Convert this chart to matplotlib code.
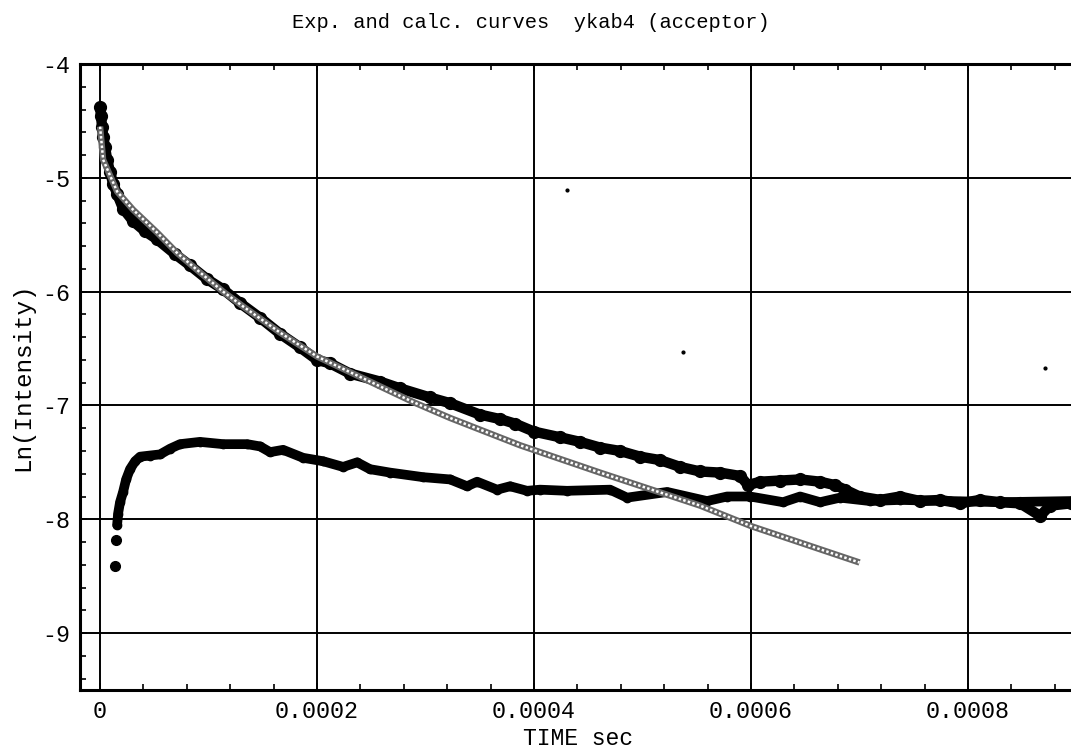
import numpy as np
import matplotlib
matplotlib.use("Agg")
import matplotlib.pyplot as plt
import matplotlib.ticker as ticker

plt.rcParams["font.family"] = ["Liberation Mono", "DejaVu Sans Mono"]
plt.rcParams["axes.unicode_minus"] = False

# ── experimental curve, upper branch (t in units of 1e-4 s) ──────────────────
t_up = np.array([0.0, 0.009, 0.018, 0.028, 0.046, 0.065, 0.092, 0.12, 0.157,
                 0.212, 0.304, 0.415, 0.525, 0.691, 0.829, 0.986, 1.134, 1.29,
                 1.475, 1.659, 1.843, 2.0, 2.12, 2.304, 2.58, 2.765, 3.04,
                 3.226, 3.5, 3.687, 3.825, 4.0, 4.24, 4.424, 4.608, 4.793,
                 4.977, 5.161, 5.346, 5.53, 5.714, 5.9, 5.972, 6.083, 6.267,
                 6.452, 6.636, 6.774, 6.866, 7.0, 7.189, 7.373, 7.558, 7.742,
                 7.926, 8.11, 8.295, 8.479, 8.664, 8.756, 8.95])
v_up = np.array([-4.38, -4.46, -4.55, -4.64, -4.73, -4.84, -4.95, -5.05, -5.14,
                 -5.27, -5.38, -5.47, -5.54, -5.67, -5.77, -5.89, -5.98, -6.10,
                 -6.23, -6.37, -6.49, -6.60, -6.63, -6.72, -6.79, -6.85, -6.93,
                 -6.98, -7.08, -7.12, -7.16, -7.23, -7.28, -7.32, -7.37, -7.40,
                 -7.45, -7.48, -7.54, -7.58, -7.59, -7.62, -7.70, -7.67, -7.66,
                 -7.65, -7.67, -7.70, -7.74, -7.80, -7.83, -7.80, -7.84, -7.83,
                 -7.86, -7.83, -7.85, -7.86, -7.97, -7.88, -7.86])

# ── experimental curve, lower branch (first two points are isolated) ─────────
t_low = np.array([0.138, 0.147, 0.157, 0.166, 0.184, 0.212, 0.24, 0.276, 0.323,
                  0.369, 0.46, 0.553, 0.645, 0.737, 0.92, 1.134, 1.355, 1.475,
                  1.567, 1.687, 1.871, 2.055, 2.24, 2.369, 2.488, 2.673, 2.977,
                  3.226, 3.382, 3.475, 3.659, 3.779, 3.935, 4.055, 4.304, 4.70,
                  4.857, 5.226, 5.594, 5.779, 5.991, 6.295, 6.452, 6.636, 6.82,
                  7.097, 7.373, 7.834, 8.295, 8.95])
v_low = np.array([-8.41, -8.18, -8.05, -7.95, -7.85, -7.76, -7.65, -7.56, -7.49,
                  -7.45, -7.44, -7.43, -7.38, -7.34, -7.32, -7.34, -7.34, -7.36,
                  -7.41, -7.39, -7.46, -7.49, -7.54, -7.50, -7.56, -7.59, -7.63,
                  -7.65, -7.71, -7.67, -7.74, -7.71, -7.75, -7.74, -7.75, -7.74,
                  -7.81, -7.76, -7.84, -7.80, -7.80, -7.85, -7.80, -7.85, -7.81,
                  -7.84, -7.83, -7.84, -7.85, -7.84])

# ── calculated curve ─────────────────────────────────────────────────────────
t_calc = np.array([0.0, 0.028, 0.092, 0.157, 0.304, 0.525, 0.71, 0.92, 1.134,
                   1.318, 1.659, 2.0, 2.885, 3.226, 3.871, 4.608, 5.53, 6.0, 7.0])
v_calc = np.array([-4.55, -4.84, -4.98, -5.12, -5.28, -5.48, -5.66, -5.83, -6.00,
                   -6.13, -6.36, -6.57, -6.97, -7.11, -7.35, -7.59, -7.88, -8.06,
                   -8.38])

# stray single points
t_stray = np.array([4.304, 5.373, 8.71])
v_stray = np.array([-5.105, -6.53, -6.67])

SCALE = 1e-4

fig = plt.figure(figsize=(10.71, 7.54), dpi=100)
ax = fig.add_axes([0.0747, 0.0849, 0.9305, 0.8302])

ax.plot(t_calc * SCALE, v_calc, color="0.4", lw=4.6, solid_capstyle="butt", zorder=3)
ax.plot(t_calc * SCALE, v_calc, color="white", lw=1.8, dashes=(1.0, 0.9), zorder=3.1)

ax.plot(t_up * SCALE, v_up, color="black", lw=7.5, marker="o", ms=8.5,
        solid_capstyle="round", zorder=2)
ax.plot(t_low[2:] * SCALE, v_low[2:], color="black", lw=7, marker="o", ms=6,
        solid_capstyle="round", zorder=2)
ax.plot(t_low[:2] * SCALE, v_low[:2], "o", color="black", ms=7, zorder=2)
ax.plot(t_stray * SCALE, v_stray, "o", color="black", ms=2, zorder=2)

ax.set_xlim(-1.85e-5, 0.0009)
ax.set_ylim(-9.5, -4)

ax.xaxis.set_major_locator(ticker.FixedLocator([0, 0.0002, 0.0004, 0.0006, 0.0008]))
ax.xaxis.set_minor_locator(ticker.MultipleLocator(0.00004))
ax.yaxis.set_major_locator(ticker.MultipleLocator(1))
ax.yaxis.set_minor_locator(ticker.MultipleLocator(0.2))
ax.xaxis.set_major_formatter(ticker.FuncFormatter(
    lambda x, p: "0" if abs(x) < 1e-12 else f"{x:.4f}"))
ax.yaxis.set_major_formatter(ticker.FuncFormatter(lambda y, p: f"{int(round(y))}"))

ax.grid(True, which="major", color="black", lw=1.4)
ax.set_axisbelow(True)
for s in ax.spines.values():
    s.set_linewidth(2.2)

ax.tick_params(which="both", direction="in", top=True, right=True, width=1.2)
ax.tick_params(which="major", length=5, labelsize=16.8, pad=7)
ax.tick_params(which="minor", length=4)

ax.set_xlabel("TIME sec", fontsize=16.6, labelpad=3)
ax.set_ylabel("Ln(Intensity)", fontsize=17.5, labelpad=6)
fig.text(0.496, 0.9695, "Exp. and calc. curves  ykab4 (acceptor)",
         ha="center", va="center", fontsize=14.7)

fig.savefig("out.png", dpi=100)
